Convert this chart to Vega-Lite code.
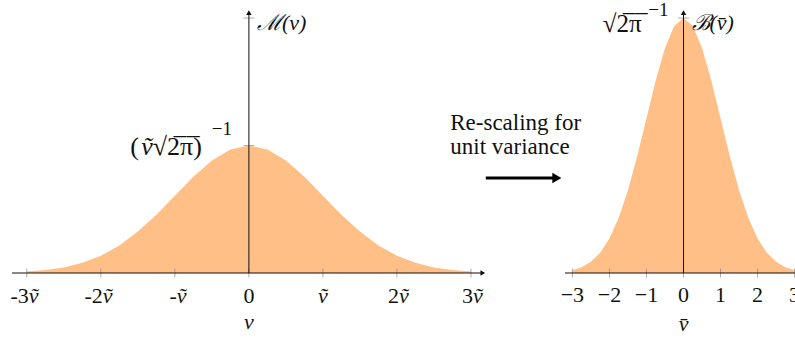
{
  "$schema": "https://vega.github.io/schema/vega-lite/v6.json",
  "padding": {"left": 10, "top": 0, "right": 0, "bottom": 0},
  "config": {"view": {"stroke": null}, "text": {"font": "Liberation Serif", "fontSize": 22, "color": "#111"}},
  "spacing": 0,
  "bounds": "flush",
  "datasets": {
    "left": [
      {"v": -3, "m": 0.002216}, {"v": -2.75, "m": 0.004547}, {"v": -2.5, "m": 0.008764}, {"v": -2.25, "m": 0.01587},
      {"v": -2, "m": 0.026995}, {"v": -1.75, "m": 0.043139}, {"v": -1.5, "m": 0.064759}, {"v": -1.25, "m": 0.091325},
      {"v": -1, "m": 0.120985}, {"v": -0.75, "m": 0.150569}, {"v": -0.5, "m": 0.176033}, {"v": -0.25, "m": 0.193334},
      {"v": 0, "m": 0.199471},
      {"v": 0.25, "m": 0.193334}, {"v": 0.5, "m": 0.176033}, {"v": 0.75, "m": 0.150569}, {"v": 1, "m": 0.120985},
      {"v": 1.25, "m": 0.091325}, {"v": 1.5, "m": 0.064759}, {"v": 1.75, "m": 0.043139}, {"v": 2, "m": 0.026995},
      {"v": 2.25, "m": 0.01587}, {"v": 2.5, "m": 0.008764}, {"v": 2.75, "m": 0.004547}, {"v": 3, "m": 0.002216}
    ],
    "right": [
      {"v": -3, "b": 0.004432}, {"v": -2.75, "b": 0.009094}, {"v": -2.5, "b": 0.017528}, {"v": -2.25, "b": 0.03174},
      {"v": -2, "b": 0.053991}, {"v": -1.75, "b": 0.086277}, {"v": -1.5, "b": 0.129518}, {"v": -1.25, "b": 0.182649},
      {"v": -1, "b": 0.241971}, {"v": -0.75, "b": 0.301137}, {"v": -0.5, "b": 0.352065}, {"v": -0.25, "b": 0.386668},
      {"v": 0, "b": 0.398942},
      {"v": 0.25, "b": 0.386668}, {"v": 0.5, "b": 0.352065}, {"v": 0.75, "b": 0.301137}, {"v": 1, "b": 0.241971},
      {"v": 1.25, "b": 0.182649}, {"v": 1.5, "b": 0.129518}, {"v": 1.75, "b": 0.086277}, {"v": 2, "b": 0.053991},
      {"v": 2.25, "b": 0.03174}, {"v": 2.5, "b": 0.017528}, {"v": 2.75, "b": 0.009094}, {"v": 3, "b": 0.004432}
    ],
    "leftTicks": [{"v": -3}, {"v": -2}, {"v": -1}, {"v": 0}, {"v": 1}, {"v": 2}, {"v": 3}],
    "leftLabels": [
      {"v": -3, "t": "-3", "kind": "num"}, {"v": -2, "t": "-2", "kind": "num"}, {"v": -1, "t": "-", "kind": "num"},
      {"v": 2, "t": "2", "kind": "num"}, {"v": 3, "t": "3", "kind": "num"},
      {"v": -3, "t": "ṽ", "kind": "var"}, {"v": -2, "t": "ṽ", "kind": "var"}, {"v": -1, "t": "ṽ", "kind": "var"},
      {"v": 2, "t": "ṽ", "kind": "var"}, {"v": 3, "t": "ṽ", "kind": "var"},
      {"v": 0, "t": "0", "kind": "zero"}, {"v": 1, "t": "ṽ", "kind": "lone"}
    ],
    "rightTicks": [
      {"v": -3, "label": "−3"}, {"v": -2, "label": "−2"}, {"v": -1, "label": "−1"}, {"v": 0, "label": "0"},
      {"v": 1, "label": "1"}, {"v": 2, "label": "2"}, {"v": 3, "label": "3"}
    ],
    "leftYTicks": [{"y": 0.199471}, {"y": 0.398942}],
    "rightYTicks": [{"y": 0.398942}]
  },
  "hconcat": [
    {
      "width": 553,
      "height": 273,
      "encoding": {
        "x": {"type": "quantitative", "scale": {"domain": [-3.2, 4.27], "nice": false, "zero": false}, "axis": null},
        "y": {"type": "quantitative", "scale": {"domain": [0, 0.4272], "nice": false, "zero": false}, "axis": null}
      },
      "layer": [
        {
          "data": {"name": "left"},
          "mark": {"type": "area", "color": "#FFBF87", "opacity": 1},
          "encoding": {"x": {"field": "v", "type": "quantitative"}, "y": {"field": "m", "type": "quantitative"}}
        },
        {
          "data": {"name": "leftTicks"},
          "mark": {"type": "tick", "orient": "vertical", "size": 9, "thickness": 1, "color": "#8a8a8a"},
          "encoding": {"x": {"field": "v", "type": "quantitative"}, "y": {"datum": 0}}
        },
        {
          "data": {"name": "leftYTicks"},
          "mark": {"type": "tick", "orient": "horizontal", "size": 11, "thickness": 1, "color": "#8a8a8a"},
          "encoding": {"x": {"datum": 0}, "y": {"field": "y", "type": "quantitative"}}
        },
        {
          "data": {"values": [{}]},
          "mark": {"type": "rule", "color": "#111", "strokeWidth": 1},
          "encoding": {"x": {"datum": -3.2}, "x2": {"datum": 3.17}, "y": {"datum": 0}}
        },
        {
          "data": {"values": [{}]},
          "mark": {"type": "rule", "color": "#111", "strokeWidth": 1},
          "encoding": {"x": {"datum": 0}, "y": {"datum": 0}, "y2": {"datum": 0.405}}
        },
        {
          "data": {"values": [{}]},
          "mark": {"type": "point", "shape": "triangle-right", "filled": true, "size": 30, "color": "#111", "opacity": 1},
          "encoding": {"x": {"datum": 3.16}, "y": {"datum": 0}}
        },
        {
          "data": {"values": [{}]},
          "mark": {"type": "point", "shape": "triangle-up", "filled": true, "size": 30, "color": "#111", "opacity": 1},
          "encoding": {"x": {"datum": 0}, "y": {"datum": 0.4075}}
        },
        {
          "data": {"name": "leftLabels"},
          "transform": [{"filter": "datum.kind == 'num'"}],
          "mark": {"type": "text", "dy": 23, "dx": 2, "align": "right", "baseline": "middle"},
          "encoding": {"x": {"field": "v", "type": "quantitative"}, "y": {"datum": 0}, "text": {"field": "t"}}
        },
        {
          "data": {"name": "leftLabels"},
          "transform": [{"filter": "datum.kind == 'var'"}],
          "mark": {"type": "text", "dy": 23, "dx": 2, "align": "left", "baseline": "middle", "fontStyle": "italic"},
          "encoding": {"x": {"field": "v", "type": "quantitative"}, "y": {"datum": 0}, "text": {"field": "t"}}
        },
        {
          "data": {"name": "leftLabels"},
          "transform": [{"filter": "datum.kind == 'zero'"}],
          "mark": {"type": "text", "dy": 23, "align": "center", "baseline": "middle"},
          "encoding": {"x": {"field": "v", "type": "quantitative"}, "y": {"datum": 0}, "text": {"field": "t"}}
        },
        {
          "data": {"name": "leftLabels"},
          "transform": [{"filter": "datum.kind == 'lone'"}],
          "mark": {"type": "text", "dy": 23, "align": "center", "baseline": "middle", "fontStyle": "italic"},
          "encoding": {"x": {"field": "v", "type": "quantitative"}, "y": {"datum": 0}, "text": {"field": "t"}}
        },
        {
          "data": {"values": [{"t": "v"}]},
          "mark": {"type": "text", "dy": 49, "align": "center", "baseline": "middle", "fontStyle": "italic"},
          "encoding": {"x": {"datum": 0}, "y": {"datum": 0}, "text": {"field": "t"}}
        },
        {
          "data": {"values": [{"t": "ℳ(v)"}]},
          "mark": {"type": "text", "dx": 8, "dy": 5, "align": "left", "baseline": "middle", "fontStyle": "italic"},
          "encoding": {"x": {"datum": 0}, "y": {"datum": 0.398942}, "text": {"field": "t"}}
        },
        {
          "data": {"values": [{"t": "√2̅π̅)"}]},
          "mark": {"type": "text", "dx": -47, "dy": 1, "align": "right", "baseline": "middle", "fontSize": 26},
          "encoding": {"x": {"datum": 0}, "y": {"datum": 0.199471}, "text": {"field": "t"}}
        },
        {
          "data": {"values": [{"t": "ṽ"}]},
          "mark": {"type": "text", "dx": -96, "dy": 1, "align": "right", "baseline": "middle", "fontSize": 26, "fontStyle": "italic"},
          "encoding": {"x": {"datum": 0}, "y": {"datum": 0.199471}, "text": {"field": "t"}}
        },
        {
          "data": {"values": [{"t": "("}]},
          "mark": {"type": "text", "dx": -110, "dy": 1, "align": "right", "baseline": "middle", "fontSize": 26},
          "encoding": {"x": {"datum": 0}, "y": {"datum": 0.199471}, "text": {"field": "t"}}
        },
        {
          "data": {"values": [{"t": "−1"}]},
          "mark": {"type": "text", "dx": -17, "dy": -17, "align": "right", "baseline": "middle", "fontSize": 19},
          "encoding": {"x": {"datum": 0}, "y": {"datum": 0.199471}, "text": {"field": "t"}}
        },
        {
          "data": {"values": [{"t": ["Re-scaling for", "unit variance"]}]},
          "mark": {"type": "text", "align": "left", "baseline": "middle", "lineHeight": 24, "fontSize": 23},
          "encoding": {"x": {"datum": 2.72}, "y": {"datum": 0.2345}, "text": {"field": "t"}}
        },
        {
          "data": {"values": [{}]},
          "mark": {"type": "rule", "color": "#000", "strokeWidth": 3},
          "encoding": {"x": {"datum": 3.2}, "x2": {"datum": 4.12}, "y": {"datum": 0.1487}}
        },
        {
          "data": {"values": [{}]},
          "mark": {"type": "point", "shape": "triangle-right", "filled": true, "size": 110, "color": "#000", "opacity": 1},
          "encoding": {"x": {"datum": 4.16}, "y": {"datum": 0.1487}}
        }
      ]
    },
    {
      "width": 237,
      "height": 273,
      "encoding": {
        "x": {"type": "quantitative", "scale": {"domain": [-3.2, 3.2], "nice": false, "zero": false}, "axis": null},
        "y": {"type": "quantitative", "scale": {"domain": [0, 0.4272], "nice": false, "zero": false}, "axis": null}
      },
      "layer": [
        {
          "data": {"name": "right"},
          "mark": {"type": "area", "color": "#FFBF87", "opacity": 1},
          "encoding": {"x": {"field": "v", "type": "quantitative"}, "y": {"field": "b", "type": "quantitative"}}
        },
        {
          "data": {"name": "rightTicks"},
          "mark": {"type": "tick", "orient": "vertical", "size": 9, "thickness": 1, "color": "#8a8a8a"},
          "encoding": {"x": {"field": "v", "type": "quantitative"}, "y": {"datum": 0}}
        },
        {
          "data": {"name": "rightYTicks"},
          "mark": {"type": "tick", "orient": "horizontal", "size": 11, "thickness": 1, "color": "#8a8a8a"},
          "encoding": {"x": {"datum": 0}, "y": {"field": "y", "type": "quantitative"}}
        },
        {
          "data": {"values": [{}]},
          "mark": {"type": "rule", "color": "#111", "strokeWidth": 1},
          "encoding": {"x": {"datum": -3.2}, "x2": {"datum": 3.17}, "y": {"datum": 0}}
        },
        {
          "data": {"values": [{}]},
          "mark": {"type": "rule", "color": "#111", "strokeWidth": 1},
          "encoding": {"x": {"datum": 0}, "y": {"datum": 0}, "y2": {"datum": 0.405}}
        },
        {
          "data": {"values": [{}]},
          "mark": {"type": "point", "shape": "triangle-right", "filled": true, "size": 30, "color": "#111", "opacity": 1},
          "encoding": {"x": {"datum": 3.16}, "y": {"datum": 0}}
        },
        {
          "data": {"values": [{}]},
          "mark": {"type": "point", "shape": "triangle-up", "filled": true, "size": 30, "color": "#111", "opacity": 1},
          "encoding": {"x": {"datum": 0}, "y": {"datum": 0.4075}}
        },
        {
          "data": {"name": "rightTicks"},
          "mark": {"type": "text", "dy": 22, "align": "center", "baseline": "middle"},
          "encoding": {"x": {"field": "v", "type": "quantitative"}, "y": {"datum": 0}, "text": {"field": "label"}}
        },
        {
          "data": {"values": [{"t": "v̄"}]},
          "mark": {"type": "text", "dy": 51, "align": "center", "baseline": "middle", "fontStyle": "italic"},
          "encoding": {"x": {"datum": 0}, "y": {"datum": 0}, "text": {"field": "t"}}
        },
        {
          "data": {"values": [{"t": "ℬ(v̄)"}]},
          "mark": {"type": "text", "dx": 8, "dy": 5, "align": "left", "baseline": "middle", "fontStyle": "italic"},
          "encoding": {"x": {"datum": 0}, "y": {"datum": 0.398942}, "text": {"field": "t"}}
        },
        {
          "data": {"values": [{"t": "√2̅π̅"}]},
          "mark": {"type": "text", "dx": -42, "dy": 6, "align": "right", "baseline": "middle", "fontSize": 25},
          "encoding": {"x": {"datum": 0}, "y": {"datum": 0.398942}, "text": {"field": "t"}}
        },
        {
          "data": {"values": [{"t": "−1"}]},
          "mark": {"type": "text", "dx": -15, "dy": -8, "align": "right", "baseline": "middle", "fontSize": 19},
          "encoding": {"x": {"datum": 0}, "y": {"datum": 0.398942}, "text": {"field": "t"}}
        }
      ]
    }
  ]
}
